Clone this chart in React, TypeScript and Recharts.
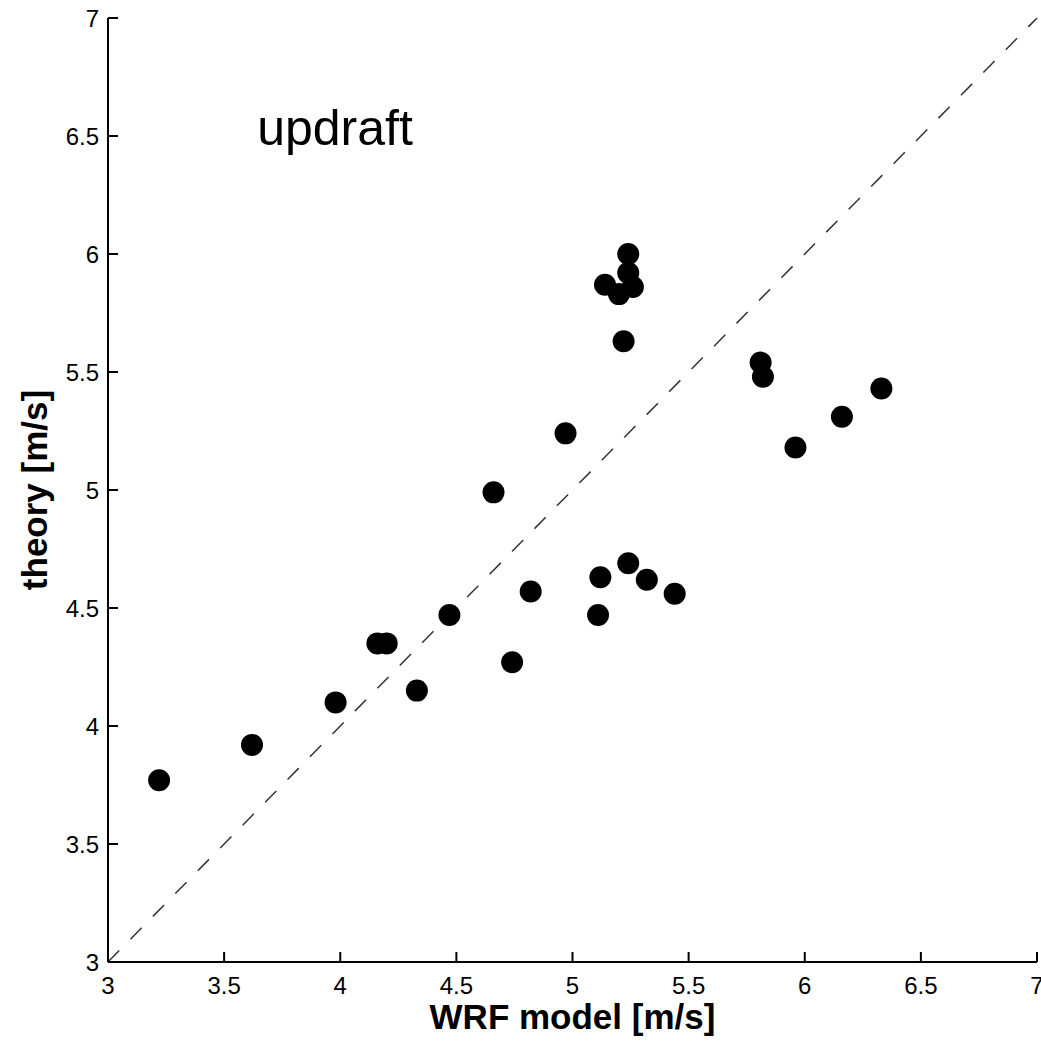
import React from "react";
import { ReferenceLine, Scatter, ScatterChart, XAxis, YAxis } from "recharts";

// WRF model vs theory updraft speeds [m/s]
const wrfModel = [
  3.22, 3.62, 3.98, 4.16, 4.2, 4.33, 4.47, 4.74, 4.82, 4.66, 4.97,
  5.11, 5.12, 5.24, 5.32, 5.44,
  5.24, 5.24, 5.14, 5.2, 5.26, 5.22,
  5.81, 5.82, 5.96, 6.16, 6.33,
];
const theory = [
  3.77, 3.92, 4.1, 4.35, 4.35, 4.15, 4.47, 4.27, 4.57, 4.99, 5.24,
  4.47, 4.63, 4.69, 4.62, 4.56,
  6.0, 5.92, 5.87, 5.83, 5.86, 5.63,
  5.54, 5.48, 5.18, 5.31, 5.43,
];
const axisTicks = [3, 3.5, 4, 4.5, 5, 5.5, 6, 6.5, 7];
const identityLine = [3, 7];

const points = wrfModel.map((x, i) => ({ x, y: theory[i] }));

const FONT = "'Liberation Sans', Arial, Helvetica, sans-serif";
const TICK_LEN = 10;

function BottomTick({ x, y, payload }: any) {
  return (
    <g>
      <line x1={x} y1={y} x2={x} y2={y - TICK_LEN} stroke="#000" strokeWidth={2} />
      <text x={x} y={y + 32} textAnchor="middle" fontFamily={FONT} fontSize={24} fill="#000">
        {payload.value}
      </text>
    </g>
  );
}

function LeftTick({ x, y, payload }: any) {
  return (
    <g>
      <line x1={x} y1={y} x2={x + TICK_LEN} y2={y} stroke="#000" strokeWidth={2} />
      <text x={x - 9} y={y + 8.5} textAnchor="end" fontFamily={FONT} fontSize={24} fill="#000">
        {payload.value}
      </text>
    </g>
  );
}

function TopTick({ x, y }: any) {
  return <line x1={x} y1={y} x2={x} y2={y + TICK_LEN} stroke="#000" strokeWidth={2} />;
}

function RightTick({ x, y }: any) {
  return <line x1={x} y1={y} x2={x - TICK_LEN} y2={y} stroke="#000" strokeWidth={2} />;
}

function XTitle({ viewBox }: any) {
  const cx = viewBox.x + viewBox.width / 2;
  return (
    <text x={cx} y={viewBox.y + 67} textAnchor="middle" fontFamily={FONT} fontSize={35} fontWeight="bold" fill="#000">
      WRF model [m/s]
    </text>
  );
}

function YTitle({ viewBox }: any) {
  const cx = viewBox.x + 34;
  const cy = viewBox.y + viewBox.height / 2;
  return (
    <text
      x={cx}
      y={cy}
      transform={`rotate(-90 ${cx} ${cy})`}
      textAnchor="middle"
      dominantBaseline="central"
      fontFamily={FONT}
      fontSize={35}
      fontWeight="bold"
      fill="#000"
    >
      theory [m/s]
    </text>
  );
}

const Dot = (props: any) => <circle cx={props.cx} cy={props.cy} r={11} fill="#000" />;

export default function App() {
  const axisLine = { stroke: "#000", strokeWidth: 2 };
  return (
    <div style={{ position: "absolute", left: 0, top: 0, width: 1041, height: 1044, background: "#fff" }}>
      <ScatterChart width={1041} height={1044} margin={{ top: 18, right: 4, bottom: 0, left: 0 }}>
        <XAxis
          xAxisId="b"
          type="number"
          dataKey="x"
          domain={[3, 7]}
          ticks={axisTicks}
          orientation="bottom"
          height={82}
          tickLine={false}
          tickSize={0}
          tickMargin={0}
          tick={<BottomTick />}
          axisLine={axisLine}
          interval={0}
          label={<XTitle />}
        />
        <XAxis
          xAxisId="t"
          type="number"
          domain={[3, 7]}
          ticks={axisTicks}
          orientation="top"
          height={0}
          tickLine={false}
          tickSize={0}
          tickMargin={0}
          tick={<TopTick />}
          axisLine={axisLine}
          interval={0}
        />
        <YAxis
          yAxisId="l"
          type="number"
          dataKey="y"
          domain={[3, 7]}
          ticks={axisTicks}
          width={108}
          tickLine={false}
          tickSize={0}
          tickMargin={0}
          tick={<LeftTick />}
          axisLine={axisLine}
          interval={0}
          label={<YTitle />}
        />
        <YAxis
          yAxisId="r"
          type="number"
          domain={[3, 7]}
          ticks={axisTicks}
          orientation="right"
          width={0}
          tickLine={false}
          tickSize={0}
          tickMargin={0}
          tick={<RightTick />}
          axisLine={axisLine}
          interval={0}
        />
        <ReferenceLine
          xAxisId="b"
          yAxisId="l"
          segment={[
            { x: identityLine[0], y: identityLine[0] },
            { x: identityLine[1], y: identityLine[1] },
          ]}
          stroke="#333"
          strokeWidth={1.5}
          strokeDasharray="16 16"
        />
        <Scatter xAxisId="b" yAxisId="l" data={points} shape={Dot} isAnimationActive={false} />
      </ScatterChart>
      <svg width={1041} height={1044} style={{ position: "absolute", left: 0, top: 0, pointerEvents: "none" }}>
        <text x={335} y={145} textAnchor="middle" fontFamily={FONT} fontSize={50} fill="#000">
          updraft
        </text>
      </svg>
    </div>
  );
}
